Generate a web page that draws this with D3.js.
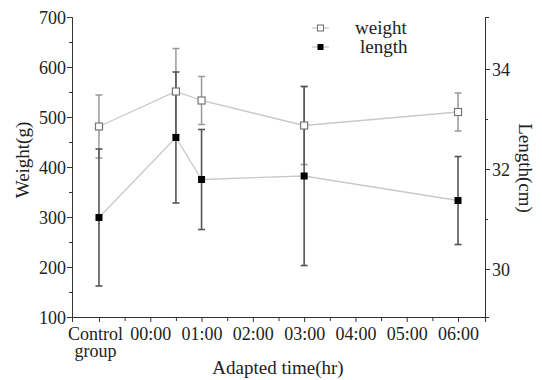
<!DOCTYPE html>
<html>
<head>
<meta charset="utf-8">
<script src="https://cdn.jsdelivr.net/npm/d3@7"></script>
<style>
  body { margin: 0; background: #fff; }
  svg { display: block; }
  .axis path, .axis line { stroke: #333; }
</style>
</head>
<body>
<svg id="chart" width="542" height="380" font-family="'Liberation Serif', Tinos, 'Times New Roman', 'DejaVu Serif', serif"></svg>
<script>
// categories on the x axis (-1 = control group, then hours)
const tickPos = [-1, 0, 1, 2, 3, 4, 5, 6];
const tickLabels = [["Control", "group"], ["00:00"], ["01:00"], ["02:00"], ["03:00"], ["04:00"], ["05:00"], ["06:00"]];

// measurement times
const times = [-1, 0.5, 1, 3, 6];

// weight (g), mean and sd
const weightMean = [481, 551, 533, 483, 510];
const weightSd = [63, 86, 48, 78, 38];

// length (cm), mean and sd
const lengthMean = [31.03, 32.63, 31.79, 31.86, 31.37];
const lengthSd = [1.37, 1.31, 1.0, 1.79, 0.88];

const weightTicks = [100, 200, 300, 400, 500, 600, 700];
const lengthTicks = [30, 32, 34];

const FONT = "'Liberation Serif', Tinos, 'Times New Roman', 'DejaVu Serif', serif";
const svg = d3.select("#chart");

const x = d3.scaleLinear().domain([-1.526, 6.526]).range([72, 485]);
const yW = d3.scaleLinear().domain([100, 700]).range([317, 17]);
const yL = d3.scaleLinear().domain([29.04, 35.04]).range([317, 17]);

const fontSize = 18;

// minor ticks first, then major axes on top
svg.append("g").attr("class", "axis")
    .attr("transform", "translate(72,0)")
    .call(d3.axisLeft(yW).tickValues(d3.range(150, 700, 100)).tickSize(3).tickSizeOuter(0).tickFormat(""));
svg.append("g").attr("class", "axis")
    .attr("transform", "translate(485,0)")
    .call(d3.axisRight(yL).tickValues([31, 33]).tickSize(3).tickSizeOuter(4).tickFormat(""));
svg.append("g").attr("class", "axis")
    .attr("transform", "translate(0,317)")
    .call(d3.axisBottom(x).tickValues(d3.range(-0.5, 6, 1)).tickSize(4).tickSizeOuter(5).tickFormat(""));

const left = svg.append("g").attr("class", "axis")
    .attr("transform", "translate(72,0)")
    .call(d3.axisLeft(yW).tickValues(weightTicks).tickSize(5).tickSizeOuter(0).tickPadding(1));
left.selectAll("text").style("font-size", fontSize + "px").attr("dy", "0.34em");

const right = svg.append("g").attr("class", "axis")
    .attr("transform", "translate(485,0)")
    .call(d3.axisRight(yL).tickValues(lengthTicks).tickSize(5).tickSizeOuter(0).tickPadding(2).tickFormat(d3.format("d")));
right.selectAll("text").style("font-size", fontSize + "px").attr("dy", "0.34em");

const bottom = svg.append("g").attr("class", "axis")
    .attr("transform", "translate(0,317)")
    .call(d3.axisBottom(x).tickValues(tickPos).tickSize(5).tickSizeOuter(5).tickFormat(""));
bottom.selectAll(".tick").each(function(d, i) {
    const t = d3.select(this).append("text")
        .attr("text-anchor", "middle")
        .style("font-size", fontSize + "px");
    tickLabels[i].forEach((s, k) => {
        t.append("tspan").attr("x", i ? 0 : -4).attr("y", 23 + k * 17).text(s);
    });
});
svg.selectAll(".axis").attr("font-family", FONT);
svg.selectAll(".axis text").attr("fill", "#222");

// axis titles
const title = (s) => svg.append("text").attr("text-anchor", "middle")
    .attr("fill", "#222").style("font-size", "19px").text(s);
title("Weight(g)").attr("transform", "translate(29,160) rotate(-90)");
title("Length(cm)").attr("transform", "translate(519,168) rotate(90)");
title("Adapted time(hr)").attr("x", 278).attr("y", 374);

const weight = times.map((t, i) => ({ t, m: weightMean[i], s: weightSd[i] }));
const length = times.map((t, i) => ({ t, m: lengthMean[i], s: lengthSd[i] }));

// connecting lines
svg.append("path").datum(weight)
    .attr("fill", "none").attr("stroke", "#c8c8c8").attr("stroke-width", 1.3)
    .attr("d", d3.line().x(d => x(d.t)).y(d => yW(d.m)));
svg.append("path").datum(length)
    .attr("fill", "none").attr("stroke", "#c8c8c8").attr("stroke-width", 1.3)
    .attr("d", d3.line().x(d => x(d.t)).y(d => yL(d.m)));

function errorBars(data, y, color, width) {
    const g = svg.append("g").attr("stroke", color).attr("stroke-width", width);
    data.forEach(d => {
        const cx = x(d.t);
        g.append("line").attr("x1", cx).attr("x2", cx).attr("y1", y(d.m - d.s)).attr("y2", y(d.m + d.s));
        [d.m - d.s, d.m + d.s].forEach(v => {
            g.append("line").attr("x1", cx - 3.5).attr("x2", cx + 3.5).attr("y1", y(v)).attr("y2", y(v));
        });
    });
}
errorBars(weight, yW, "#9a9a9a", 1.5);
errorBars(length, yL, "#555", 1.6);

// markers
svg.selectAll(".wpt").data(weight).enter().append("rect")
    .attr("x", d => x(d.t) - 3.5).attr("y", d => yW(d.m) - 3.5)
    .attr("width", 7).attr("height", 7)
    .attr("fill", "#fff").attr("stroke", "#777").attr("stroke-width", 1.2);
svg.selectAll(".lpt").data(length).enter().append("rect")
    .attr("x", d => x(d.t) - 3.5).attr("y", d => yL(d.m) - 3.5)
    .attr("width", 7).attr("height", 7)
    .attr("fill", "#000");

// legend
const legend = [
    { name: "weight", fill: "#fff", stroke: "#777", y: 28, tx: 355 },
    { name: "length", fill: "#000", stroke: "none", y: 47, tx: 360 }
];
legend.forEach(l => {
    svg.append("line").attr("x1", 312).attr("x2", 329).attr("y1", l.y).attr("y2", l.y)
        .attr("stroke", "#c8c8c8").attr("stroke-width", 1.3);
    svg.append("rect").attr("x", 317.5).attr("y", l.y - 3).attr("width", 6).attr("height", 6)
        .attr("fill", l.fill).attr("stroke", l.stroke).attr("stroke-width", 1.1);
    svg.append("text").attr("x", l.tx).attr("y", l.y).attr("dy", "0.3em")
        .attr("fill", "#222").style("font-size", "19px").text(l.name);
});
</script>
</body>
</html>
